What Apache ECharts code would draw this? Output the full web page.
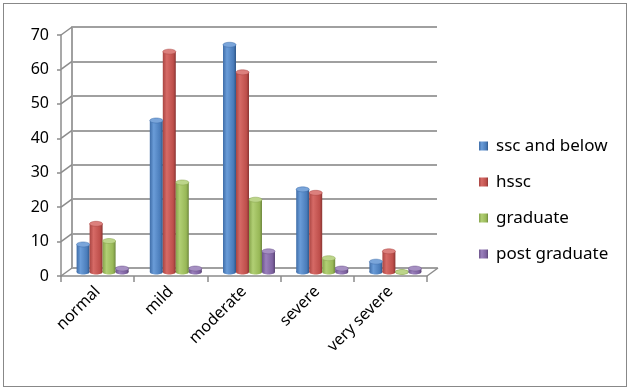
<!DOCTYPE html>
<html>
<head>
<meta charset="utf-8">
<script src="https://cdn.jsdelivr.net/npm/echarts@6/dist/echarts.min.js"></script>
<style>
  html, body { margin: 0; padding: 0; background: #fff; }
  #wrap { position: relative; width: 629px; height: 390px; }
  #chart { width: 629px; height: 390px; }
  #frame { position: absolute; left: 3px; top: 3px; width: 622px; height: 382px; border: 1px solid #888; pointer-events: none; }
</style>
</head>
<body>
<div id="wrap">
  <div id="chart"></div>
  <div id="frame"></div>
</div>
<script>
var categories = ["normal", "mild", "moderate", "severe", "very severe"]
var seriesNames = ["ssc and below", "hssc", "graduate", "post graduate"]
var sscAndBelow = [8, 44, 66, 24, 3]
var hssc = [14, 64, 58, 23, 6]
var graduate = [9, 26, 21, 4, 0]
var postGraduate = [1, 1, 6, 1, 1]
var yTicks = [0, 10, 20, 30, 40, 50, 60, 70]

var values = [sscAndBelow, hssc, graduate, postGraduate]

// office 2007 palette, cylinder shading
var shades = [
  { base: '#4F81BD', stops: ['#3f6da8', '#6a9cd8', '#4a7cba', '#2f5789'], top: '#7aa5da' },
  { base: '#C0504D', stops: ['#a94542', '#d66a66', '#be4f4b', '#8a3533'], top: '#dc807d' },
  { base: '#9BBB59', stops: ['#86a34b', '#b1cf74', '#98b857', '#6e873e'], top: '#bcd58a' },
  { base: '#8064A2', stops: ['#6d558c', '#9a80bc', '#7e62a0', '#5a4674'], top: '#a690c2' }
]

function cylGradient(s) {
  return {
    type: 'linear', x: 0, y: 0, x2: 1, y2: 0,
    colorStops: [
      { offset: 0, color: s.stops[0] },
      { offset: 0.3, color: s.stops[1] },
      { offset: 0.8, color: s.stops[2] },
      { offset: 1, color: s.stops[3] }
    ]
  }
}

var barW = 13
var font = 'Noto Sans'

var series = []

// back wall 3D connectors (front axis -> back wall)
series.push({
  type: 'custom',
  xAxisIndex: 0,
  yAxisIndex: 0,
  silent: true,
  z: 1,
  data: yTicks.map(function (v) { return [0, v] }),
  renderItem: function (params, api) {
    var y = api.coord([0, api.value(1)])[1]
    var cs = params.coordSys
    var children = [{
      type: 'line',
      shape: { x1: cs.x, y1: y, x2: cs.x + 11, y2: y - 8 },
      style: { stroke: '#8c8c8c', lineWidth: 1.5 }
    }]
    if (api.value(1) === 0) {
      children.push({
        type: 'line',
        shape: { x1: cs.x + cs.width, y1: y, x2: cs.x + cs.width + 11, y2: y - 8 },
        style: { stroke: '#8c8c8c', lineWidth: 1.5 }
      })
    }
    return { type: 'group', children: children }
  }
})

values.forEach(function (vals, i) {
  var s = shades[i]
  series.push({
    name: seriesNames[i],
    type: 'bar',
    xAxisIndex: 2,
    yAxisIndex: 2,
    data: vals,
    barWidth: barW,
    barGap: '0%',
    z: 3,
    itemStyle: { color: cylGradient(s) }
  })
})

// legend swatches (solid colour), parked on the back-wall grid with no data
seriesNames.forEach(function (n, i) {
  series.push({
    name: n,
    type: 'bar',
    xAxisIndex: 1,
    yAxisIndex: 1,
    data: [],
    itemStyle: { color: shades[i].base }
  })
})

// cylinder caps
values.forEach(function (vals, i) {
  var s = shades[i]
  series.push({
    type: 'custom',
    xAxisIndex: 2,
    yAxisIndex: 2,
    silent: true,
    z: 4,
    data: vals.map(function (v, k) { return [k, v] }),
    renderItem: function (params, api) {
      var top = api.coord([api.value(0), api.value(1)])
      var base = api.coord([api.value(0), 0])
      var cx = top[0] + (i - 1.5) * barW
      var rx = barW / 2
      return {
        type: 'group',
        children: [{
          type: 'ellipse',
          shape: { cx: cx, cy: base[1], rx: rx, ry: 2.5 },
          style: { fill: cylGradient(s) }
        }, {
          type: 'ellipse',
          shape: { cx: cx, cy: top[1], rx: rx, ry: 2.5 },
          style: { fill: s.top, stroke: s.stops[0], lineWidth: 0.5 }
        }]
      }
    }
  })
})

var chart = echarts.init(document.getElementById('chart'))
chart.setOption({
  animation: false,
  textStyle: { fontFamily: font },
  legend: {
    orient: 'vertical',
    left: 474,
    top: 130,
    itemWidth: 9,
    itemHeight: 9,
    itemGap: 14,
    icon: 'rect',
    data: seriesNames,
    textStyle: { fontFamily: font, fontSize: 17, color: '#000', padding: [0, 0, 0, 3], lineHeight: 22 }
  },
  grid: [
    { left: 61, right: 202, top: 35, bottom: 114 },
    { left: 72, right: 192, top: 27, bottom: 122 },
    { left: 66, right: 197, top: 31, bottom: 118 }
  ],
  xAxis: [
    {
      gridIndex: 0,
      type: 'category',
      data: categories,
      axisLine: { show: true, lineStyle: { color: '#8c8c8c', width: 1.5 } },
      axisTick: { show: true, length: 6, lineStyle: { color: '#8c8c8c', width: 1.5 } },
      axisLabel: { rotate: 45, fontSize: 16, color: '#000', margin: 13, fontFamily: font }
    },
    {
      gridIndex: 1,
      type: 'category',
      data: categories,
      axisLine: { show: true, lineStyle: { color: '#a0a0a0', width: 2 } },
      axisTick: { show: false },
      axisLabel: { show: false }
    },
    {
      gridIndex: 2,
      type: 'category',
      data: categories,
      axisLine: { show: false },
      axisTick: { show: false },
      axisLabel: { show: false }
    }
  ],
  yAxis: [
    {
      gridIndex: 0,
      type: 'value',
      min: 0,
      max: 70,
      interval: 10,
      axisLine: { show: true, lineStyle: { color: '#8c8c8c', width: 1.5 } },
      axisTick: { show: true, length: 4, lineStyle: { color: '#8c8c8c', width: 1.5 } },
      axisLabel: { fontSize: 16, color: '#000', margin: 12, fontFamily: font },
      splitLine: { show: false }
    },
    {
      gridIndex: 1,
      type: 'value',
      min: 0,
      max: 70,
      interval: 10,
      axisLine: { show: true, lineStyle: { color: '#a0a0a0', width: 2 } },
      axisTick: { show: false },
      axisLabel: { show: false },
      splitLine: { show: true, lineStyle: { color: '#a0a0a0', width: 2 } }
    },
    {
      gridIndex: 2,
      type: 'value',
      min: 0,
      max: 70,
      interval: 10,
      axisLine: { show: false },
      axisTick: { show: false },
      axisLabel: { show: false },
      splitLine: { show: false }
    }
  ],
  series: series
})
</script>
</body>
</html>
